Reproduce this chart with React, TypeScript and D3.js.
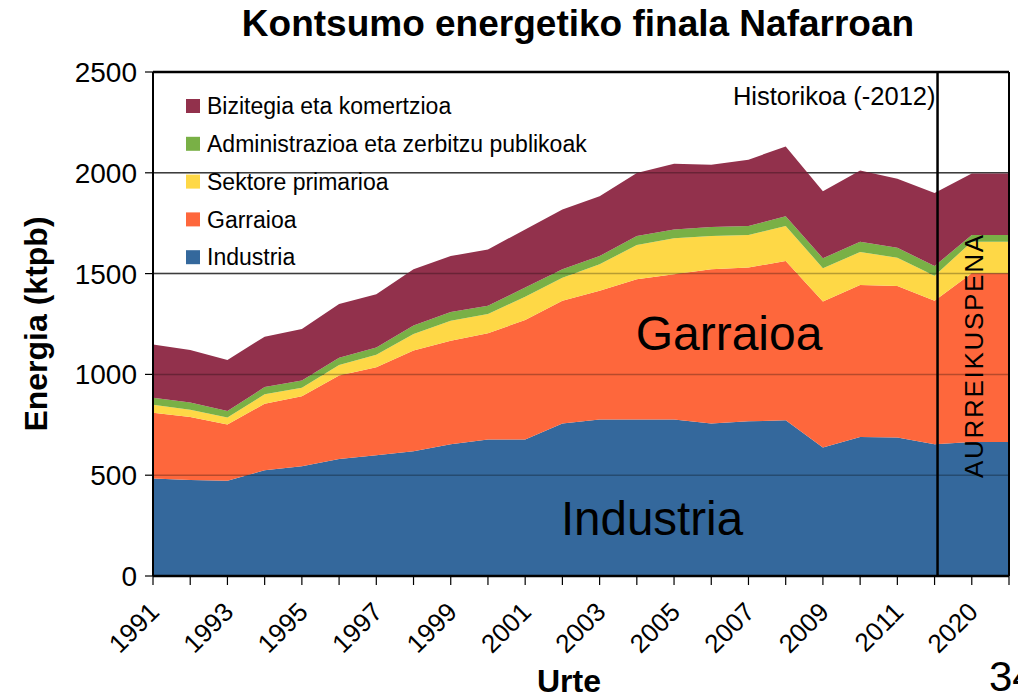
import React from 'react';
import * as d3 from 'd3';

// urteak (azken bi puntuak aurreikuspena dira)
const years = ['1991', '1992', '1993', '1994', '1995', '1996', '1997', '1998', '1999', '2000', '2001', '2002', '2003', '2004', '2005', '2006', '2007', '2008', '2009', '2010', '2011', '2012', '2020', '2030'];

const industria = [484, 476, 472, 525, 545, 580, 599, 619, 653, 677, 677, 756, 776, 776, 776, 756, 767, 772, 637, 690, 687, 654, 665, 665];
const garraioa = [326, 313, 279, 330, 346, 415, 437, 499, 514, 527, 593, 609, 639, 696, 721, 766, 763, 791, 725, 754, 752, 711, 837, 837];
const primarioa = [40, 36, 35, 46, 43, 52, 62, 83, 99, 95, 115, 115, 131, 170, 178, 164, 161, 173, 165, 163, 140, 124, 156, 156];
const administrazioa = [34, 35, 32, 36, 36, 35, 36, 42, 43, 41, 46, 42, 41, 44, 44, 45, 45, 49, 49, 51, 49, 49, 33, 33];
const bizitegia = [264, 261, 254, 250, 255, 267, 264, 279, 278, 280, 288, 296, 297, 313, 326, 309, 329, 346, 333, 354, 343, 362, 305, 305];

const yTicks = [0, 500, 1000, 1500, 2000, 2500];

const series = [
  { key: 'industria', label: 'Industria', color: '#34689c', values: industria },
  { key: 'garraioa', label: 'Garraioa', color: '#fe673c', values: garraioa },
  { key: 'primarioa', label: 'Sektore primarioa', color: '#fed846', values: primarioa },
  { key: 'administrazioa', label: 'Administrazioa eta zerbitzu publikoak', color: '#79b046', values: administrazioa },
  { key: 'bizitegia', label: 'Bizitegia eta komertzioa', color: '#92314c', values: bizitegia },
];

const FONT = '"Liberation Sans", Arial, sans-serif';

export default function App() {
  const width = 1018;
  const height = 698;
  const margin = { top: 72, right: 9, bottom: 122, left: 153 };

  const x = d3.scalePoint<string>().domain(years).range([margin.left, width - margin.right]);
  const y = d3.scaleLinear().domain([0, 2500]).range([height - margin.bottom, margin.top]);

  const table = years.map((yr, i) => {
    const row: any = { year: yr };
    series.forEach(s => { row[s.key] = s.values[i]; });
    return row;
  });
  const stacked = d3.stack<any>().keys(series.map(s => s.key))(table);

  const area = d3.area<any>()
    .x(d => x(d.data.year)!)
    .y0(d => y(d[0]))
    .y1(d => y(d[1]));

  const x0 = margin.left;
  const x1 = width - margin.right;
  const yTop = y(2500);
  const yBot = y(0);
  const step = x.step();
  const splitX = x('2012')! + step * 0.08;

  return (
    <svg width={width} height={height} style={{ position: 'absolute', left: 0, top: 0, background: '#fff' }} fontFamily={FONT}>
      {/* grid under */}
      {yTicks.map(t => (
        <line key={'g' + t} x1={x0} x2={x1} y1={y(t)} y2={y(t)} stroke="#555" strokeWidth={1.5} />
      ))}

      {stacked.map((layer, i) => (
        <path key={layer.key} d={area(layer as any) || ''} fill={series[i].color} />
      ))}

      {/* grid over areas */}
      {yTicks.map(t => (
        <line key={'go' + t} x1={x0} x2={x1} y1={y(t)} y2={y(t)} stroke="#000" strokeOpacity={0.28} strokeWidth={1.5} />
      ))}

      {/* frame */}
      <line x1={x0} x2={x1} y1={yTop} y2={yTop} stroke="#000" strokeWidth={2.5} />
      <line x1={x1} x2={x1} y1={yTop} y2={yBot} stroke="#000" strokeWidth={2} />
      <line x1={x0} x2={x0} y1={yTop} y2={yBot} stroke="#000" strokeWidth={2} />
      <line x1={x0} x2={x1} y1={yBot} y2={yBot} stroke="#000" strokeWidth={2.5} />
      <line x1={splitX} x2={splitX} y1={yTop} y2={yBot} stroke="#000" strokeWidth={2.5} />

      {/* y axis */}
      {yTicks.map(t => (
        <g key={'yt' + t}>
          <line x1={x0 - 8} x2={x0} y1={y(t)} y2={y(t)} stroke="#000" strokeWidth={1.2} />
          <text x={x0 - 16} y={y(t)} dy="0.36em" textAnchor="end" fontSize={28}>{t}</text>
        </g>
      ))}

      {/* x axis */}
      {years.map((yr, i) => (
        <g key={'xt' + yr}>
          <line x1={x(yr)} x2={x(yr)} y1={yBot} y2={yBot + 9} stroke="#000" strokeWidth={1.2} />
          {i % 2 === 0 && (
            <text transform={`translate(${x(yr)! + 1},${yBot + 31}) rotate(-45)`} textAnchor="end" dy="0.36em" fontSize={26}>{yr}</text>
          )}
        </g>
      ))}

      {/* titles */}
      <text x={578} y={36} textAnchor="middle" fontSize={37} fontWeight="bold">Kontsumo energetiko finala Nafarroan</text>
      <text transform={`translate(47,${(yTop + yBot) / 2}) rotate(-90)`} textAnchor="middle" fontSize={32} fontWeight="bold">Energia (ktpb)</text>
      <text x={569} y={692} textAnchor="middle" fontSize={32} fontWeight="bold">Urte</text>
      <text x={989} y={691} fontSize={42}>34</text>

      {/* annotations */}
      <text x={splitX - 2} y={105} textAnchor="end" fontSize={25.5}>Historikoa (-2012)</text>
      <text transform={`translate(983,478) rotate(-90)`} fontSize={26} textLength={243} lengthAdjust="spacing">AURREIKUSPENA</text>
      <text x={729} y={350} textAnchor="middle" fontSize={48}>Garraioa</text>
      <text x={652} y={535} textAnchor="middle" fontSize={47.5}>Industria</text>

      {/* legend */}
      {series.slice().reverse().map((s, i) => (
        <g key={'l' + s.key} transform={`translate(186,${106 + i * 37.8})`}>
          <rect x={0} y={-7} width={14} height={14} fill={s.color} />
          <text x={21} y={0} dy="0.36em" fontSize={23}>{s.label}</text>
        </g>
      ))}
    </svg>
  );
}
